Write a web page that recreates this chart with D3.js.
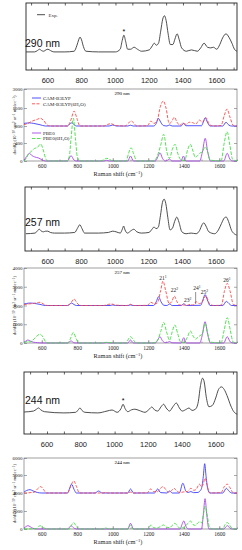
<!DOCTYPE html>
<html>
<head>
<meta charset="utf-8">
<script src="https://cdn.jsdelivr.net/npm/d3@7"></script>
<style>
body { margin: 0; background: #fff; }
</style>
</head>
<body>
<div id="graph"></div>
<script>
// tick labels
var ramanTicks = [600, 800, 1000, 1200, 1400, 1600];
var seriesNames = ["CAM-B3LYP", "CAM-B3LYP(6H\u2082O)", "PBE0", "PBE0(6H\u2082O)"];

// experimental spectra, [shift, intensity %]
var exp290 = [[470,27],[520,27],[538,29],[550,31],[562,29],[575,28],[588,30],[600,31],[615,29],[635,27],[700,27],[755,28],[772,37],[782,45],[790,49],[799,45],[810,35],[825,28],[900,27],[1000,27],[1028,31],[1040,44],[1050,52],[1060,43],[1072,31],[1090,31],[1110,34],[1130,31],[1155,28],[1200,30],[1218,36],[1230,40],[1242,37],[1255,40],[1268,58],[1280,76],[1290,81],[1300,74],[1312,54],[1325,38],[1340,38],[1352,46],[1365,54],[1378,45],[1392,33],[1420,28],[1450,30],[1485,28],[1505,33],[1525,40],[1545,34],[1565,33],[1580,34],[1600,31],[1618,38],[1635,48],[1655,54],[1672,49],[1690,40],[1705,31],[1720,28]];
var exp257 = [[470,27],[525,28],[540,32],[550,34],[562,31],[575,30],[588,31],[600,31],[615,29],[640,28],[700,28],[760,29],[775,35],[790,41],[803,35],[818,28],[900,28],[960,29],[985,31],[1005,30],[1030,28],[1042,34],[1050,39],[1058,33],[1072,28],[1095,32],[1110,34],[1128,30],[1155,28],[1200,29],[1218,34],[1230,37.5],[1242,35],[1255,37],[1268,55],[1280,76],[1290,81],[1300,74],[1312,52],[1325,33],[1340,36],[1352,46],[1365,53],[1378,45],[1395,30],[1420,27],[1450,28],[1480,27],[1500,32],[1515,41],[1525,44],[1538,39],[1555,30],[1590,27],[1612,33],[1630,43],[1648,52],[1658,53],[1672,46],[1690,32],[1705,27],[1720,25]];
var exp244 = [[465,35.5],[520,37],[538,40],[550,42],[563,39],[585,36],[700,34],[770,35],[785,39],[795,42],[807,38],[825,35],[900,34],[955,37],[985,38.7],[1015,35],[1038,41],[1050,48],[1062,41],[1078,36],[1100,39],[1120,40],[1145,38],[1180,35],[1205,40],[1220,43.5],[1236,39],[1255,37],[1275,44],[1290,48],[1305,42],[1325,37],[1345,44],[1365,50],[1383,42],[1400,37],[1425,40],[1440,42],[1458,38],[1478,40],[1495,52],[1508,78],[1520,90],[1530,84],[1542,60],[1558,44],[1578,46],[1598,58],[1615,72],[1632,76],[1648,72],[1665,62],[1688,45],[1705,36],[1725,32]];

// calculated 290 nm
var cam290 = [[500,900],[510,910],[530,920],[555,900],[590,850],[620,800],[745,800],[755,860],[768,920],[782,860],[795,800],[980,800],[1000,840],[1020,800],[1085,800],[1100,830],[1115,800],[1230,800],[1245,900],[1257,1100],[1270,950],[1285,820],[1305,800],[1320,840],[1335,800],[1385,800],[1398,900],[1412,810],[1500,810],[1510,950],[1521,1123],[1533,950],[1548,800],[1620,800],[1638,944],[1655,830],[1670,800],[1700,800]];
var camW290 = [[500,850],[520,900],[550,1000],[575,1060],[592,1100],[610,1020],[632,830],[650,800],[745,800],[765,1050],[782,1380],[798,1100],[815,800],[950,800],[970,860],[990,890],[1015,820],[1070,800],[1090,920],[1103,995],[1118,920],[1135,800],[1195,810],[1215,990],[1232,900],[1250,1000],[1268,1600],[1285,2050],[1300,1500],[1318,900],[1330,950],[1347,1140],[1362,950],[1378,830],[1396,917],[1413,860],[1431,944],[1450,930],[1468,880],[1488,1030],[1505,950],[1525,1120],[1545,850],[1570,800],[1610,820],[1628,1200],[1644,1460],[1660,1150],[1680,820],[1700,800]];
var pbe290 = [[500,20],[515,100],[530,171],[545,120],[560,90],[580,70],[600,30],[620,0],[745,0],[765,118],[782,20],[795,0],[950,0],[965,15],[980,0],[1085,0],[1100,111],[1117,0],[1240,0],[1255,100],[1266,184],[1280,60],[1295,0],[1310,20],[1320,44],[1333,0],[1385,0],[1398,111],[1412,0],[1490,0],[1505,200],[1521,510],[1535,200],[1550,0],[1625,0],[1645,171],[1660,40],[1675,0],[1700,0]];
var pbeW290 = [[500,0],[510,40],[525,150],[540,210],[560,280],[575,300],[594,377],[608,250],[620,80],[632,0],[740,0],[755,100],[765,500],[778,1100],[790,500],[800,100],[815,0],[930,0],[950,30],[966,60],[985,30],[1000,0],[1075,0],[1090,180],[1103,295],[1118,160],[1135,0],[1230,0],[1250,100],[1270,350],[1287,604],[1305,200],[1320,60],[1335,250],[1351,371],[1368,150],[1385,20],[1405,10],[1422,250],[1437,371],[1452,220],[1465,80],[1478,120],[1492,178],[1505,200],[1520,318],[1535,200],[1550,20],[1610,0],[1628,400],[1644,666],[1660,350],[1675,40],[1700,0]];

// calculated 257 nm
var cam257 = [[500,2080],[515,2110],[535,2130],[560,2110],[590,2060],[620,2000],[745,2000],[755,2050],[768,2130],[782,2050],[795,2000],[985,2000],[1000,2030],[1015,2000],[1085,2000],[1100,2030],[1115,2000],[1230,2000],[1245,2200],[1258,2470],[1272,2200],[1288,2010],[1305,2000],[1320,2080],[1335,2000],[1385,2000],[1400,2090],[1415,2000],[1495,2010],[1508,2300],[1520,2580],[1533,2300],[1548,2000],[1620,2000],[1640,2220],[1655,2100],[1670,2000],[1700,2000]];
var camW257 = [[500,2040],[520,2080],[545,2100],[565,2130],[590,2170],[610,2080],[630,2000],[745,2000],[765,2150],[782,2345],[798,2150],[815,2000],[950,2000],[975,2060],[995,2080],[1015,2020],[1080,2000],[1100,2063],[1120,2000],[1195,2010],[1215,2170],[1235,2080],[1252,2150],[1270,2800],[1283,3300],[1298,2800],[1318,2100],[1332,2200],[1347,2500],[1362,2200],[1378,2020],[1400,2025],[1420,2010],[1435,2060],[1452,2020],[1470,2200],[1488,2100],[1505,2200],[1525,2520],[1545,2100],[1570,2000],[1612,2020],[1630,2800],[1645,3180],[1660,2800],[1680,2050],[1700,2000]];
var pbe257 = [[500,40],[510,100],[522,160],[537,100],[555,40],[575,20],[600,0],[745,0],[765,110],[782,10],[795,0],[950,0],[965,20],[980,0],[1085,0],[1100,160],[1117,0],[1240,0],[1254,180],[1266,336],[1280,120],[1295,20],[1310,40],[1320,80],[1333,10],[1385,0],[1400,283],[1414,0],[1490,0],[1505,450],[1520,1135],[1535,450],[1550,0],[1625,0],[1645,336],[1662,60],[1680,0],[1700,0]];
var pbeW257 = [[500,0],[510,50],[522,100],[535,60],[550,150],[570,350],[590,470],[608,300],[622,60],[635,0],[745,0],[760,200],[778,560],[795,200],[810,0],[930,0],[950,25],[965,35],[985,20],[1000,0],[1075,0],[1088,200],[1100,340],[1115,180],[1132,0],[1225,0],[1250,100],[1270,600],[1287,1100],[1303,600],[1320,150],[1335,600],[1350,960],[1366,500],[1382,60],[1400,20],[1420,300],[1437,640],[1454,350],[1468,200],[1480,320],[1492,390],[1505,500],[1520,1050],[1535,500],[1550,50],[1610,0],[1628,700],[1645,1350],[1662,700],[1678,50],[1700,0]];

// calculated 244 nm
var cam244 = [[500,4050],[515,4140],[534,4185],[550,4120],[575,4030],[600,4000],[745,4000],[755,4200],[768,4490],[782,4200],[795,4000],[900,4000],[920,4110],[940,4000],[1085,4000],[1100,4225],[1117,4000],[1235,4000],[1253,4225],[1270,4020],[1305,4000],[1320,4110],[1335,4000],[1375,4000],[1395,4545],[1412,4100],[1425,4030],[1440,4080],[1455,4020],[1480,4030],[1490,4100],[1500,4250],[1510,4900],[1518,5665],[1526,4900],[1536,4200],[1548,4000],[1620,4000],[1640,4260],[1655,4100],[1670,4000],[1700,4000]];
var camW244 = [[500,4000],[560,4050],[578,4250],[594,4355],[610,4200],[625,4000],[745,4000],[762,4350],[780,4675],[796,4350],[812,4000],[945,4000],[960,4030],[975,4000],[1085,4000],[1100,4050],[1115,4000],[1195,4010],[1212,4225],[1230,4080],[1250,4060],[1268,4250],[1283,4355],[1298,4200],[1315,4040],[1330,4120],[1345,4260],[1360,4120],[1378,4030],[1400,4060],[1420,4080],[1440,4260],[1457,4150],[1470,4200],[1488,4490],[1500,4350],[1510,4500],[1520,4825],[1532,4400],[1547,4000],[1610,4020],[1628,4350],[1645,4490],[1660,4300],[1678,4020],[1700,4000]];
var pbe244 = [[500,100],[510,250],[522,370],[535,250],[550,80],[570,0],[745,0],[757,200],[765,370],[778,150],[795,0],[1085,0],[1100,640],[1117,0],[1380,0],[1390,500],[1400,900],[1412,300],[1425,0],[1500,0],[1510,1500],[1520,3370],[1530,1500],[1542,0],[1625,0],[1640,300],[1648,370],[1660,100],[1675,0],[1700,0]];
var pbeW244 = [[500,0],[570,50],[590,370],[610,150],[630,0],[755,0],[770,500],[780,710],[792,400],[810,0],[945,0],[960,130],[975,0],[1085,0],[1100,450],[1115,0],[1200,0],[1215,450],[1230,150],[1250,100],[1270,300],[1287,450],[1303,200],[1320,150],[1335,400],[1350,640],[1365,300],[1380,100],[1400,150],[1422,600],[1437,900],[1452,500],[1465,400],[1478,650],[1490,800],[1502,700],[1512,1800],[1520,2500],[1530,1800],[1545,200],[1560,0],[1620,0],[1633,500],[1645,710],[1660,400],[1675,0],[1700,0]];

// y axis tick values of the three calc panels
var yTicks290 = [0, 400, 800, 1500, 3000];
var yTicks257 = [0, 1000, 2000, 3000, 4000];
var yTicks244 = [0, 2000, 4000, 5000, 6000];

// mode labels in 257 nm panel: [label, sup, shift, value]
var modes257 = [["21","1",1283,3360],["22","2",1347,2720],["23","2",1422,2185],["24","1",1475,2825],["25","2",1516,2640],["26","1",1644,3250]];

var colors = ["#3d3dff", "#ff4747", "#a64ae6", "#3ee03e"];
var dashes = [null, "3,1.5", null, "3.5,1.5"];

var svg = d3.select("#graph").append("svg")
  .attr("width", 242).attr("height", 550)
  .style("font-family", "'Liberation Serif', serif");

var line = function(x, y) {
  return d3.line().x(d => x(d[0])).y(d => y(d[1])).curve(d3.curveMonotoneX);
};

function expPanel(o) {
  var x = d3.scaleLinear().domain(o.xDomain).range([o.left, 237]);
  var y = d3.scaleLinear().domain([0, 100]).range([o.bottom, o.top]);
  var g = svg.append("g");
  var minor = d3.range(500, 1701, 100);
  g.append("g").attr("transform", "translate(0," + o.bottom + ")")
    .call(d3.axisBottom(x).tickValues(minor).tickSize(-2.5).tickFormat(""));
  g.append("g").attr("transform", "translate(0," + o.top + ")")
    .call(d3.axisTop(x).tickValues(minor).tickSize(-2.5).tickFormat(""));
  g.selectAll(".domain").remove();
  g.selectAll(".tick line").attr("stroke", "#222").attr("stroke-width", 0.7);
  g.append("rect").attr("x", o.left).attr("y", o.top)
    .attr("width", 237 - o.left).attr("height", o.bottom - o.top)
    .attr("fill", "none").attr("stroke", "#222").attr("stroke-width", 0.9);
  g.selectAll("text.xl").data(ramanTicks).enter().append("text")
    .attr("x", d => x(d)).attr("y", o.bottom + 12.5)
    .attr("text-anchor", "middle")
    .style("font-family", "'Liberation Sans', Arial, sans-serif")
    .style("font-size", "7.5px").attr("fill", "#222").text(d => d);
  g.append("path").datum(o.data).attr("d", line(x, y))
    .attr("fill", "none").attr("stroke", "#3a3a3a").attr("stroke-width", 0.9);
  g.append("text").attr("x", 25).attr("y", o.labelY)
    .style("font-family", "'Liberation Sans', Arial, sans-serif")
    .style("font-size", "10.5px").attr("fill", "#111").text(o.label);
  if (o.star) {
    g.append("text").attr("x", x(o.star[0])).attr("y", y(o.star[1]) + 3)
      .attr("text-anchor", "middle").style("font-family", "'Liberation Sans', sans-serif")
      .style("font-size", "7px").text("*");
  }
  if (o.legend) {
    g.append("line").attr("x1", 37).attr("x2", 45).attr("y1", 14.7).attr("y2", 14.7)
      .attr("stroke", "#3a3a3a").attr("stroke-width", 0.9);
    g.append("text").attr("x", 48.5).attr("y", 16.5).style("font-size", "5px")
      .attr("fill", "#333").text("Exp.");
  }
}

function calcPanel(o) {
  var x = d3.scaleLinear().domain([500, 1700]).range([24, 237]);
  var y = d3.scaleLinear().domain(o.yTicks).range(o.yRange);
  var g = svg.append("g");
  var top = o.yRange[o.yRange.length - 1], bottom = o.yRange[0];
  g.append("g").attr("transform", "translate(0," + bottom + ")")
    .call(d3.axisBottom(x).tickValues(d3.range(500, 1701, 100)).tickSize(-1.5).tickFormat(""));
  g.append("g").attr("transform", "translate(0," + bottom + ")")
    .call(d3.axisBottom(x).tickValues(ramanTicks).tickSize(-3).tickPadding(3.5).tickFormat(d3.format("d")))
    .selectAll("text").style("font-size", "5.6px").style("font-family", "'Liberation Serif', serif");
  g.append("g").attr("transform", "translate(24,0)")
    .call(d3.axisLeft(y).tickValues(o.yTicks).tickSize(-3).tickPadding(1.5).tickFormat(d3.format("d")))
    .selectAll("text").style("font-size", "5px").style("font-family", "'Liberation Serif', serif");
  g.append("g").attr("transform", "translate(237,0)")
    .call(d3.axisRight(y).tickValues(o.yTicks).tickSize(-3).tickFormat(""));
  g.selectAll(".domain").remove();
  g.selectAll(".tick line").attr("stroke", "#555").attr("stroke-width", 0.5);
  g.selectAll(".tick text").attr("fill", "#222");
  g.append("rect").attr("x", 24).attr("y", top).attr("width", 213).attr("height", bottom - top)
    .attr("fill", "none").attr("stroke", "#777").attr("stroke-width", 0.7);

  o.series.forEach(function(s, i) {
    g.append("path").datum(s).attr("d", line(x, y))
      .attr("fill", "none").attr("stroke", colors[i]).attr("stroke-width", 0.9)
      .attr("stroke-dasharray", dashes[i]);
  });

  g.append("text").attr("x", 122).attr("y", top + 5.5).attr("text-anchor", "middle")
    .style("font-size", "5px").text(o.title);
  g.append("text").attr("x", 118).attr("y", bottom + 15)
    .attr("text-anchor", "middle").style("font-size", "6.3px").attr("fill", "#222")
    .html("Raman shift (cm<tspan dy='-2' font-size='4.5px'>\u22121</tspan><tspan dy='2'>)</tspan>");
  g.append("text")
    .attr("transform", "translate(16," + ((top + bottom) / 2) + ") rotate(-90)")
    .attr("text-anchor", "middle").style("font-size", "4.6px").attr("fill", "#222")
    .html("d\u03c3/d\u03a9 (10<tspan dy='-1.5' font-size='3.5px'>\u221230</tspan><tspan dy='1.5'> cm</tspan><tspan dy='-1.5' font-size='3.5px'>2</tspan><tspan dy='1.5'> sr</tspan><tspan dy='-1.5' font-size='3.5px'>\u22121</tspan><tspan dy='1.5'> molec</tspan><tspan dy='-1.5' font-size='3.5px'>\u22121</tspan><tspan dy='1.5'>)</tspan>");

  if (o.legend) {
    var rows = [[98, 0], [103.8, 1], [133, 2], [138.5, 3]];
    rows.forEach(function(r) {
      g.append("line").attr("x1", 32).attr("x2", 41).attr("y1", r[0]).attr("y2", r[0])
        .attr("stroke", colors[r[1]]).attr("stroke-width", 0.9)
        .attr("stroke-dasharray", dashes[r[1]]);
      g.append("text").attr("x", 43).attr("y", r[0] + 1.7).style("font-size", "5px")
        .attr("fill", "#222").text(seriesNames[r[1]]);
    });
  }
  if (o.modes) {
    o.modes.forEach(function(m) {
      g.append("text").attr("x", x(m[2])).attr("y", y(m[3])).attr("text-anchor", "middle")
        .style("font-size", "5.5px").attr("fill", "#222")
        .html(m[0] + "<tspan dy='-2' font-size='3.8px'>" + m[1] + "</tspan>");
    });
    g.append("line").attr("x1", x(1467)).attr("x2", x(1467)).attr("y1", y(2720)).attr("y2", y(2080))
      .attr("stroke", "#444").attr("stroke-width", 0.6);
  }
}

expPanel({ data: exp290, xDomain: [470, 1720], left: 26, top: 3, bottom: 70, label: "290 nm", labelY: 47, star: [1050, 58], legend: true });
calcPanel({ series: [cam290, camW290, pbe290, pbeW290], yTicks: yTicks290, yRange: [161, 143, 126, 108, 89], title: "290 nm", legend: true });
expPanel({ data: exp257, xDomain: [465, 1722], left: 25, top: 187, bottom: 251, label: "257 nm", labelY: 226 });
calcPanel({ series: [cam257, camW257, pbe257, pbeW257], yTicks: yTicks257, yRange: [343, 324.25, 305.5, 286.75, 268], title: "257 nm", modes: modes257 });
expPanel({ data: exp244, xDomain: [464, 1724], left: 24, top: 372, bottom: 434, label: "244 nm", labelY: 404, star: [1050, 55] });
calcPanel({ series: [cam244, camW244, pbe244, pbeW244], yTicks: yTicks244, yRange: [529, 511, 493, 475, 458], title: "244 nm" });
</script>
</body>
</html>
